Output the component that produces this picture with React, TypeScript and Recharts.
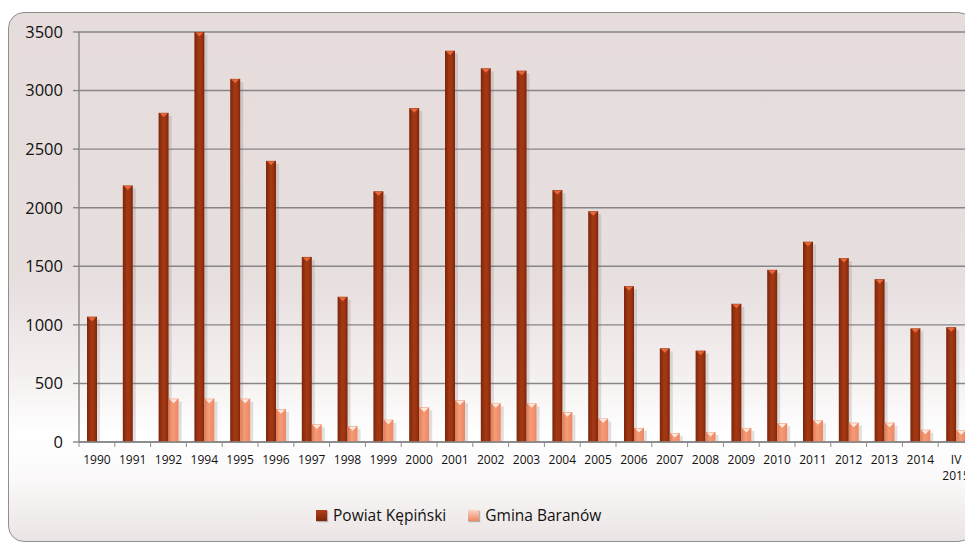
import { BarChart, Bar, XAxis, YAxis, CartesianGrid } from "recharts";

const categories = [
  "1990", "1991", "1992", "1994", "1995", "1996", "1997", "1998", "1999", "2000",
  "2001", "2002", "2003", "2004", "2005", "2006", "2007", "2008", "2009", "2010",
  "2011", "2012", "2013", "2014", "IV 2015",
];
const powiatKepinski = [
  1070, 2190, 2810, 3500, 3100, 2400, 1580, 1240, 2140, 2850,
  3340, 3190, 3170, 2150, 1970, 1330, 800, 780, 1180, 1470,
  1710, 1570, 1390, 970, 980,
];
const gminaBaranow = [
  0, 0, 370, 370, 370, 280, 150, 135, 190, 295,
  355, 330, 330, 255, 200, 120, 75, 85, 120, 160,
  185, 165, 165, 105, 100,
];
const yTicks = [0, 500, 1000, 1500, 2000, 2500, 3000, 3500];

const data = categories.map((year, i) => ({
  year,
  powiat: powiatKepinski[i],
  gmina: gminaBaranow[i],
}));

const CHART_W = 980;
const CHART_H = 545;
const MARGIN = { top: 32, right: 6, bottom: 63, left: 0 };
const Y_AXIS_W = 79;
const BAND = (CHART_W - MARGIN.left - MARGIN.right - Y_AXIS_W) / categories.length;
const FONT = "'Open Sans', 'Noto Sans', sans-serif";

function BevelBar(props: any) {
  const { x, y, width, height, gradId, cap } = props;
  if (!height || height <= 0) return null;
  return (
    <g>
      <rect x={x + width} y={y + 3} width={3} height={height - 3} fill="#7a7070" opacity={0.22} />
      <rect x={x} y={y} width={width} height={height} fill={`url(#${gradId})`} />
      <polygon
        points={`${x + 1},${y + 0.5} ${x + width - 1},${y + 0.5} ${x + width / 2},${y + 4.5}`}
        fill={cap}
      />
    </g>
  );
}

function YearTick(props: any) {
  const { x, y, payload } = props;
  const lines = String(payload.value).split(" ");
  const bx = x - BAND / 2;
  return (
    <g>
      <line x1={bx} y1={y} x2={bx} y2={y + 5} stroke="#8c8c8c" />
      {lines.map((l, i) => (
        <text
          key={i}
          x={x}
          y={y + 22 + i * 16}
          textAnchor="middle"
          fontSize={12}
          fontFamily={FONT}
          fill="#111"
        >
          {l}
        </text>
      ))}
    </g>
  );
}

function LegendSwatch({ a, b }: { a: string; b: string }) {
  return (
    <span
      style={{
        display: "inline-block",
        width: 11,
        height: 11,
        background: `linear-gradient(to bottom, ${a}, ${b})`,
        boxShadow: "1px 1px 1px rgba(0,0,0,0.25)",
        marginRight: 6,
      }}
    />
  );
}

export default function App() {
  return (
    <div style={{ position: "absolute", left: 0, top: 0, width: 965, height: 545, overflow: "hidden", background: "#fff" }}>
      <div
        style={{
          position: "absolute",
          left: 8,
          top: 12,
          width: 964,
          height: 528,
          borderRadius: 16,
          border: "1.5px solid #8f8f8f",
          background:
            "linear-gradient(to bottom, #e6dcdc 0%, #e7dede 50%, #f4efef 68%, #ffffff 80%, #fbf9f9 88%, #ebe4e4 100%)",
        }}
      />
      <div style={{ position: "absolute", left: 0, top: 0 }}>
        <BarChart
          width={CHART_W}
          height={CHART_H}
          data={data}
          margin={MARGIN}
          barSize={10}
          barGap={0}
        >
          <defs>
            <linearGradient id="gDark" x1="0" y1="0" x2="1" y2="0">
              <stop offset="0%" stopColor="#7c250a" />
              <stop offset="45%" stopColor="#a33914" />
              <stop offset="70%" stopColor="#9e3512" />
              <stop offset="100%" stopColor="#7c250a" />
            </linearGradient>
            <linearGradient id="gLight" x1="0" y1="0" x2="1" y2="0">
              <stop offset="0%" stopColor="#e07a55" />
              <stop offset="40%" stopColor="#f59b78" />
              <stop offset="100%" stopColor="#ec8864" />
            </linearGradient>
          </defs>
          <CartesianGrid vertical={false} stroke="#868686" strokeWidth={1.4} />
          <XAxis
            dataKey="year"
            interval={0}
            tickLine={false}
            tickSize={0}
            tickMargin={0}
            height={40}
            axisLine={{ stroke: "#868686", strokeWidth: 1.4 }}
            tick={<YearTick />}
          />
          <YAxis
            domain={[0, 3500]}
            ticks={yTicks}
            width={Y_AXIS_W}
            tickSize={6}
            tickMargin={10}
            axisLine={{ stroke: "#868686", strokeWidth: 1.4 }}
            tickLine={{ stroke: "#868686", strokeWidth: 1.4 }}
            tick={{ fontSize: 16.5, fontFamily: FONT, fill: "#111" }}
            allowDataOverflow
          />
          <Bar
            dataKey="powiat"
            name="Powiat Kępiński"
            isAnimationActive={false}
            shape={<BevelBar gradId="gDark" cap="#e8683a" />}
          />
          <Bar
            dataKey="gmina"
            name="Gmina Baranów"
            isAnimationActive={false}
            shape={<BevelBar gradId="gLight" cap="#fde9de" />}
          />
        </BarChart>
      </div>
      <div
        style={{
          position: "absolute",
          left: 316,
          top: 504,
          display: "flex",
          alignItems: "center",
          fontFamily: FONT,
          fontSize: 15.5,
          color: "#111",
          whiteSpace: "nowrap",
        }}
      >
        <LegendSwatch a="#b0401a" b="#7e260b" />
        <span style={{ marginRight: 22 }}>Powiat Kępiński</span>
        <LegendSwatch a="#fbd2c0" b="#ec8864" />
        <span>Gmina Baranów</span>
      </div>
    </div>
  );
}
